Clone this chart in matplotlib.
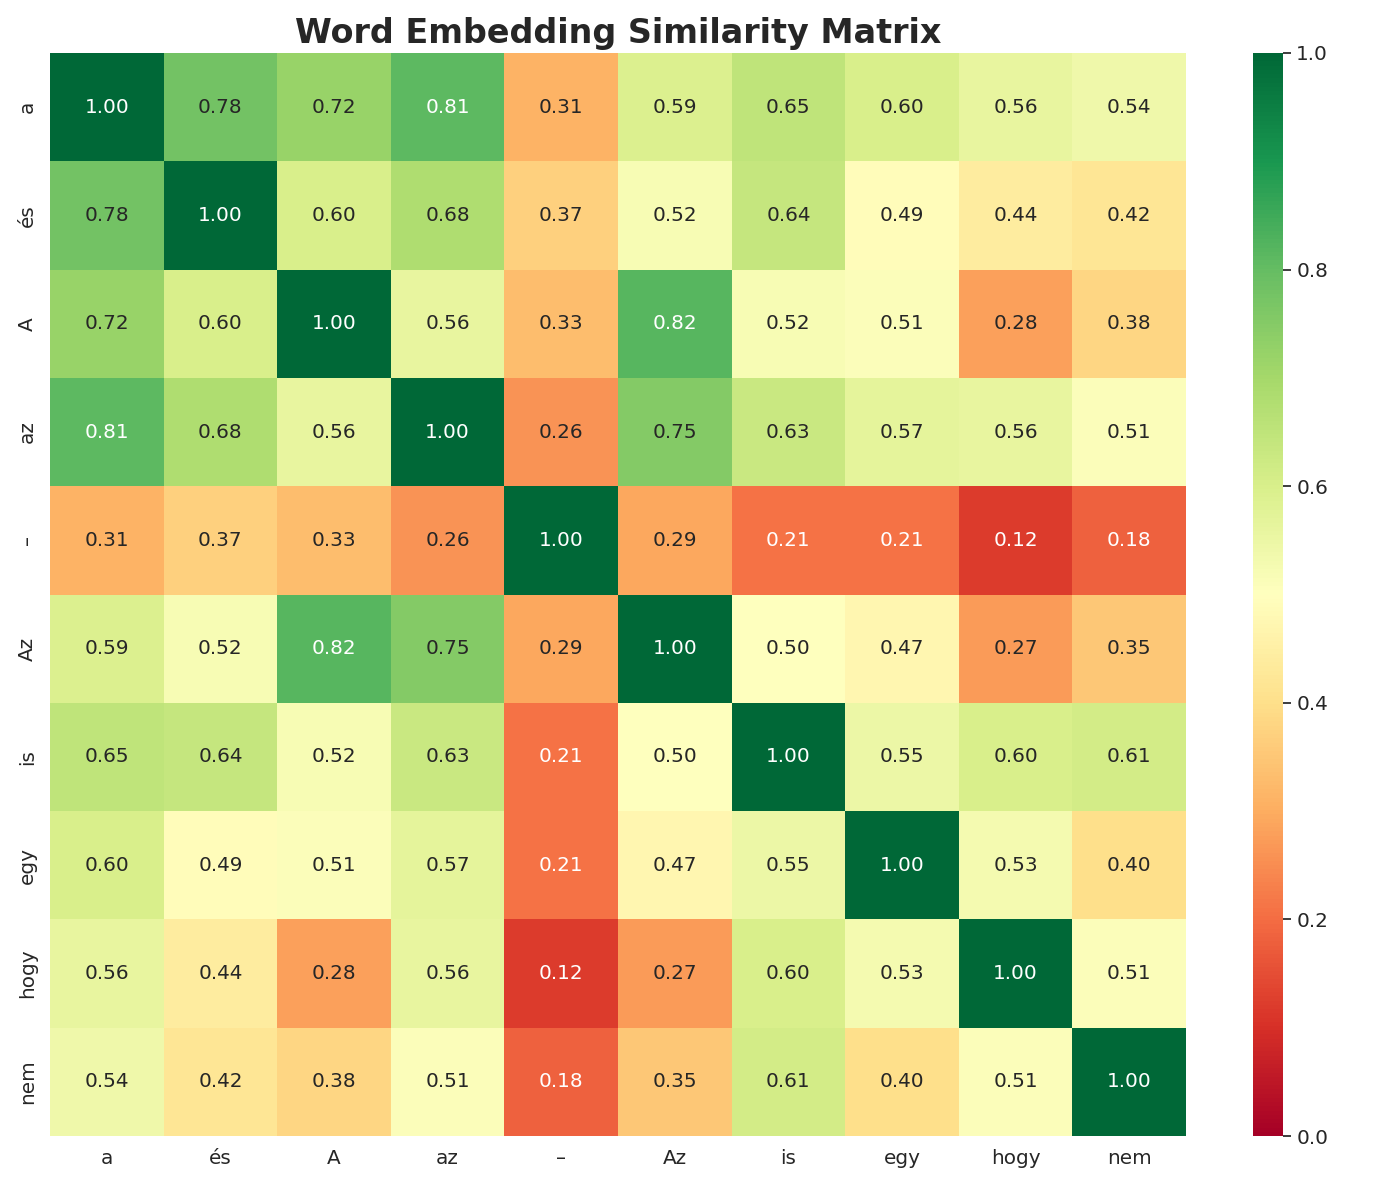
import numpy as np
import matplotlib
matplotlib.use("Agg")
import matplotlib.pyplot as plt
import seaborn as sns

words = ["a", "és", "A", "az", "–", "Az", "is", "egy", "hogy", "nem"]
row_a    = [1.00, 0.78, 0.72, 0.81, 0.31, 0.59, 0.65, 0.60, 0.56, 0.54]
row_es   = [0.78, 1.00, 0.60, 0.68, 0.37, 0.52, 0.64, 0.49, 0.44, 0.42]
row_A    = [0.72, 0.60, 1.00, 0.56, 0.33, 0.82, 0.52, 0.51, 0.28, 0.38]
row_az   = [0.81, 0.68, 0.56, 1.00, 0.26, 0.75, 0.63, 0.57, 0.56, 0.51]
row_dash = [0.31, 0.37, 0.33, 0.26, 1.00, 0.29, 0.21, 0.21, 0.12, 0.18]
row_Az   = [0.59, 0.52, 0.82, 0.75, 0.29, 1.00, 0.50, 0.47, 0.27, 0.35]
row_is   = [0.65, 0.64, 0.52, 0.63, 0.21, 0.50, 1.00, 0.55, 0.60, 0.61]
row_egy  = [0.60, 0.49, 0.51, 0.57, 0.21, 0.47, 0.55, 1.00, 0.53, 0.40]
row_hogy = [0.56, 0.44, 0.28, 0.56, 0.12, 0.27, 0.60, 0.53, 1.00, 0.51]
row_nem  = [0.54, 0.42, 0.38, 0.51, 0.18, 0.35, 0.61, 0.40, 0.51, 1.00]

matrix = np.array([row_a, row_es, row_A, row_az, row_dash,
                   row_Az, row_is, row_egy, row_hogy, row_nem])

sns.set_theme(style="white")
plt.rcParams['font.family'] = ['DejaVu Sans']

fig = plt.figure(figsize=(13.73, 11.86), dpi=100)
ax = fig.add_axes([50/1373, 1 - 1136/1186, (1186-50)/1373, (1136-53)/1186])
cax = fig.add_axes([1253/1373, 1 - 1136/1186, 30/1373, (1136-53)/1186])

sns.heatmap(matrix, ax=ax, cbar_ax=cax, cmap="RdYlGn", vmin=0, vmax=1,
            annot=True, fmt=".2f", annot_kws={"size": 14.4},
            xticklabels=words, yticklabels=words)
ax.set_title("Word Embedding Similarity Matrix", fontsize=24, fontweight="bold", pad=7)
ax.tick_params(axis='both', labelsize=14.4)
cax.tick_params(labelsize=14.4)
plt.setp(ax.get_yticklabels(), rotation=90, va="center")
plt.setp(ax.get_xticklabels(), rotation=0)

fig.savefig("out.png", dpi=100)
